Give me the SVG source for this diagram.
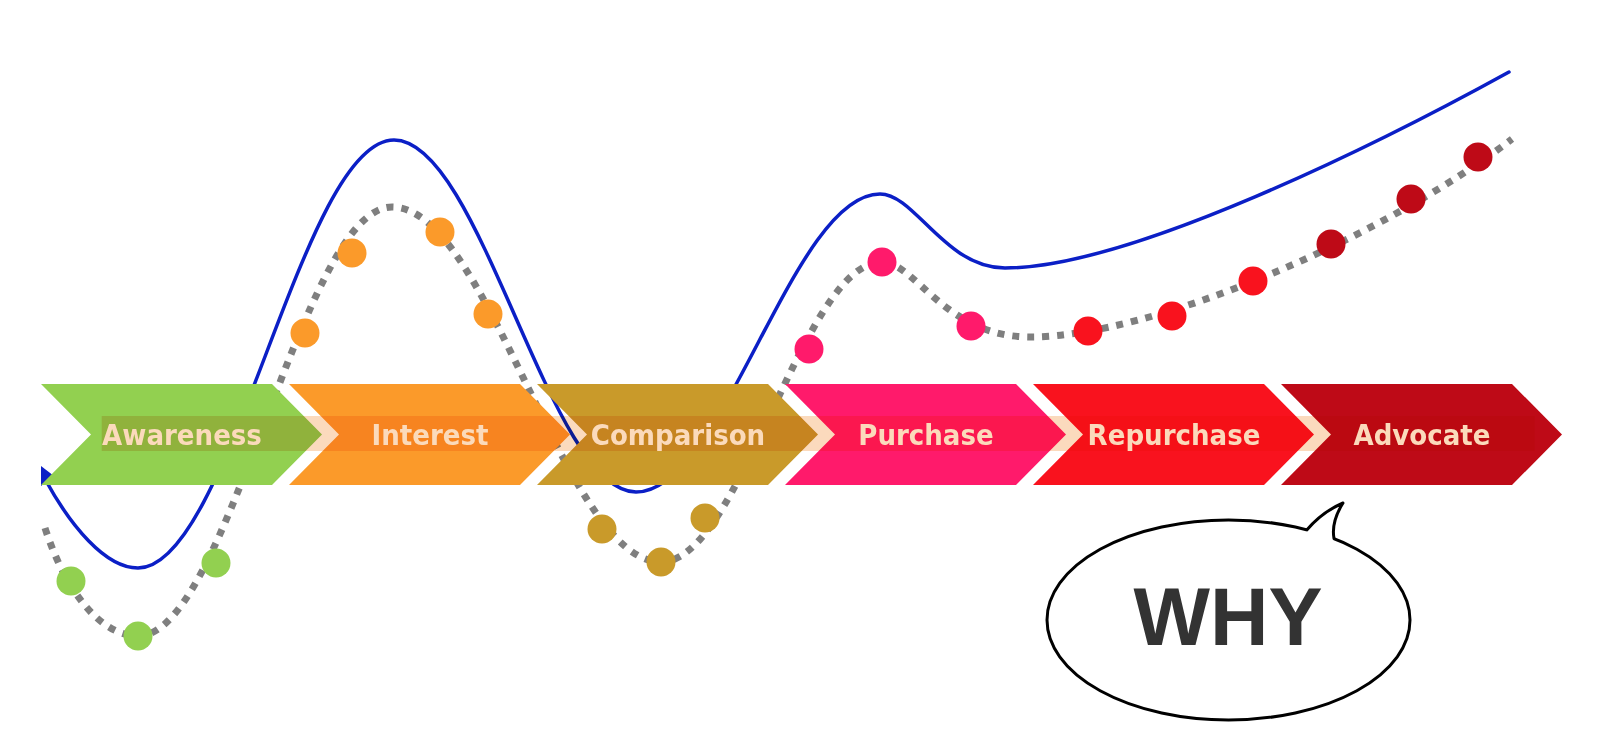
<svg xmlns="http://www.w3.org/2000/svg" xmlns:xlink="http://www.w3.org/1999/xlink" width="1600" height="751" viewBox="0 0 1600 751">
<style>
.blue{fill:none;stroke:#0B1FC6;stroke-width:3.5;stroke-linecap:round}
.dots{fill:none;stroke:#7F7F7F;stroke-width:7;stroke-dasharray:7 8}
.lbl{font-family:"DejaVu Sans Condensed","DejaVu Sans","Liberation Sans",sans-serif;font-stretch:condensed;font-weight:bold;font-size:29px;fill:#FBDABB;text-anchor:middle}
.band{fill:#FBDABD;mix-blend-mode:multiply}
.why{font-family:"Liberation Sans",Arial,sans-serif;font-weight:bold;font-size:81px;fill:#333333;text-anchor:middle}
.outline{fill:none;stroke:#000000;stroke-width:3;stroke-linejoin:round;stroke-linecap:round}
</style>
<defs>
<path id="chev" d="M0,384 H231 L281,434.5 L231,485 H0 L50,434.5 Z"/>
</defs>
<rect width="1600" height="751" fill="#FFFFFF"/>
<g id="connectors">
<path class="dots" d="M45,528 C65,590 100,636 138,636 C229,636 301,207 392,207 C489,207 564,562 661,562 C741,562 802,262 882,262 C915,262 945,337 1030,337 C1150,337 1380,240 1512,139"/>
<path class="blue" d="M45,479 C70,525 105,568 138,568 C231,568 301,140 394,140 C481,140 549,492 636,492 C724,492 792,194 880,194 C915,194 945,268 1005,268 C1130,268 1380,143 1509,72"/>
<polygon points="41,466 54,476 41,486" fill="#0B1FC6"/>
</g>
<g id="dots">
<circle cx="71" cy="581" r="14.5" fill="#92D050"/>
<circle cx="138" cy="636" r="14.5" fill="#92D050"/>
<circle cx="216" cy="563" r="14.5" fill="#92D050"/>
<circle cx="305" cy="333" r="14.5" fill="#FB9A2A"/>
<circle cx="352" cy="253" r="14.5" fill="#FB9A2A"/>
<circle cx="440" cy="232" r="14.5" fill="#FB9A2A"/>
<circle cx="488" cy="314" r="14.5" fill="#FB9A2A"/>
<circle cx="602" cy="529" r="14.5" fill="#C99A2A"/>
<circle cx="661" cy="562" r="14.5" fill="#C99A2A"/>
<circle cx="705" cy="518" r="14.5" fill="#C99A2A"/>
<circle cx="809" cy="349" r="14.5" fill="#FF1A6B"/>
<circle cx="882" cy="262" r="14.5" fill="#FF1A6B"/>
<circle cx="971" cy="326" r="14.5" fill="#FF1A6B"/>
<circle cx="1088" cy="331" r="14.5" fill="#F9121E"/>
<circle cx="1172" cy="316" r="14.5" fill="#F9121E"/>
<circle cx="1253" cy="281" r="14.5" fill="#F9121E"/>
<circle cx="1331" cy="244" r="14.5" fill="#BE0A17"/>
<circle cx="1411" cy="199" r="14.5" fill="#BE0A17"/>
<circle cx="1478" cy="157" r="14.5" fill="#BE0A17"/>
</g>
<g id="node-awareness"><use xlink:href="#chev" x="41" fill="#92D050"/></g>
<g id="node-interest"><use xlink:href="#chev" x="289" fill="#FB9A2A"/></g>
<g id="node-comparison"><use xlink:href="#chev" x="537" fill="#C99A2A"/></g>
<g id="node-purchase"><use xlink:href="#chev" x="785" fill="#FF1A6B"/></g>
<g id="node-repurchase"><use xlink:href="#chev" x="1033" fill="#F9121E"/></g>
<g id="node-advocate"><use xlink:href="#chev" x="1281" fill="#BE0A17"/></g>
<rect class="band" x="101.7" y="416" width="1433" height="35"/>
<g id="labels">
<text class="lbl" x="182" y="445">Awareness</text>
<text class="lbl" x="430" y="445">Interest</text>
<text class="lbl" x="678" y="445">Comparison</text>
<text class="lbl" x="926" y="445">Purchase</text>
<text class="lbl" x="1174" y="445">Repurchase</text>
<text class="lbl" x="1422" y="445">Advocate</text>
</g>
<g id="node-why">
<ellipse cx="1228.5" cy="620" rx="181.5" ry="100" fill="#FFFFFF" class="outline" style="fill:#FFFFFF"/>
<path d="M1307,529.8 Q1322,512 1343,503 Q1331,522 1334,538.6 L1331,546 L1304,537 Z" fill="#FFFFFF"/>
<path class="outline" d="M1307,529.8 Q1322,512 1343,503 Q1331,522 1334,538.6"/>
<text class="why" x="1228" y="645">WHY</text>
</g>
</svg>
